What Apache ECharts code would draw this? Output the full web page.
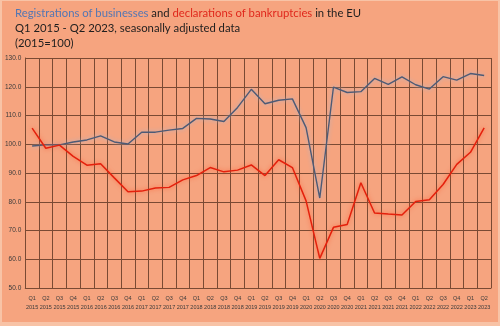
<!DOCTYPE html>
<html><head><meta charset="utf-8">
<script src="https://cdn.jsdelivr.net/npm/echarts@6/dist/echarts.min.js"></script>
<style>
html,body{margin:0;padding:0;background:#f8c3a6;}
#wrap{width:500px;height:326px;position:relative;background:#f8c3a6;}
#c{position:absolute;left:2px;top:1px;width:496px;height:321px;background:#f6a47f;}
</style></head><body>
<div id="wrap"><div id="c"></div></div>
<script>
const categories = [
 'Q1\n2015','Q2\n2015','Q3\n2015','Q4\n2015',
 'Q1\n2016','Q2\n2016','Q3\n2016','Q4\n2016',
 'Q1\n2017','Q2\n2017','Q3\n2017','Q4\n2017',
 'Q1\n2018','Q2\n2018','Q3\n2018','Q4\n2018',
 'Q1\n2019','Q2\n2019','Q3\n2019','Q4\n2019',
 'Q1\n2020','Q2\n2020','Q3\n2020','Q4\n2020',
 'Q1\n2021','Q2\n2021','Q3\n2021','Q4\n2021',
 'Q1\n2022','Q2\n2022','Q3\n2022','Q4\n2022',
 'Q1\n2023','Q2\n2023'];
const registrations = [99.4,99.8,99.8,100.8,101.5,102.9,100.8,100.1,104.2,104.2,104.9,105.5,
 109.0,108.8,107.9,112.8,119.1,114.1,115.3,115.8,105.8,81.3,119.9,118.0,
 118.3,122.9,120.8,123.4,120.7,119.2,123.5,122.3,124.6,123.9];
const bankruptcies = [105.6,98.6,99.7,95.8,92.7,93.2,88.3,83.5,83.7,84.8,85.0,87.6,
 89.1,91.9,90.4,91.0,92.8,89.1,94.6,91.9,80.3,60.3,71.1,72.1,
 86.6,76.1,75.7,75.4,80.1,80.7,86.0,93.0,97.2,105.7];
const yMin = 50, yMax = 130, yStep = 10;

const chart = echarts.init(document.getElementById('c'), null, {renderer:'canvas'});
const tfont = 'Lato, "Noto Sans", sans-serif';
const rs = (c) => ({color:c, fontSize:11.3, fontFamily: tfont, fontWeight:'normal', lineHeight:15});
chart.setOption({
  backgroundColor: '#f6a47f',
  animation: false,
  title: {
    left: 8, top: 0,
    text: '{b|Registrations of businesses} {k|and} {r|declarations of bankruptcies} {k|in the EU}\n{k|Q1 2015 - Q2 2023, seasonally adjusted data}\n{k|(2015=100)}',
    textStyle: {
      fontFamily: tfont, fontSize: 11.3, fontWeight: 'normal', lineHeight: 15, color: '#1e1e1e',
      rich: { b: rs('#5476b2'), r: rs('#e0281c'), k: rs('#1e1e1e') }
    }
  },
  grid: {left: 23, right: 7, top: 57, bottom: 34, containLabel: false},
  xAxis: {
    type: 'category', data: categories, boundaryGap: true,
    axisLine: {show: true, lineStyle: {color: '#7a4a33', width: 1}},
    axisTick: {show: false},
    splitLine: {show: true, interval: 0, lineStyle: {color: '#7a4a33', width: 1}},
    axisLabel: {interval: 0, color: '#3a3a3a', fontSize: 5.5, lineHeight: 9, margin: 6,
      fontFamily: '"Liberation Sans", sans-serif'}
  },
  yAxis: {
    type: 'value', min: yMin, max: yMax, interval: yStep,
    axisLine: {show: true, lineStyle: {color: '#7a4a33', width: 1}},
    axisTick: {show: false},
    splitLine: {show: true, lineStyle: {color: '#7a4a33', width: 1}},
    axisLabel: {color: '#3a3a3a', fontSize: 6.5, margin: 4, fontFamily: '"Liberation Sans", sans-serif',
      formatter: v => v.toFixed(1)}
  },
  series: [
    {name: 'Registrations', type: 'line', data: registrations, symbol: 'none',
     lineStyle: {color: '#4d5a75', width: 1.4, shadowColor: 'rgba(170,180,205,0.95)', shadowBlur: 4}},
    {name: 'Bankruptcies', type: 'line', data: bankruptcies, symbol: 'none',
     lineStyle: {color: '#e4200c', width: 1.5, shadowColor: 'rgba(255,80,40,0.7)', shadowBlur: 4}}
  ]
});
</script></body></html>
